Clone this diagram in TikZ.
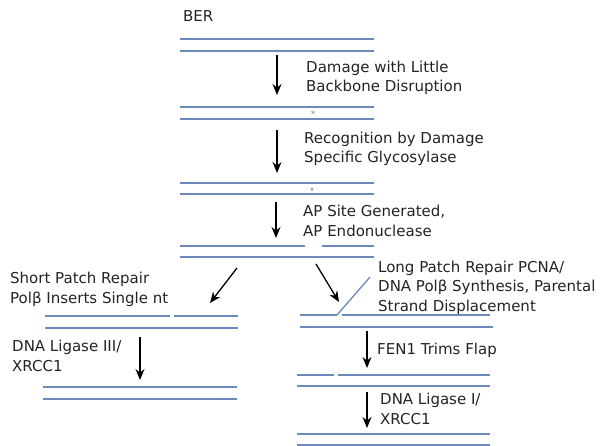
\documentclass[tikz,border=0pt]{standalone}
\usepackage{fontspec}
\setmainfont{DejaVu Sans}
\usetikzlibrary{arrows.meta}
\tikzset {>=Stealth}
\definecolor{strandblue}{RGB}{108,138,190}
\definecolor{textgray}{RGB}{35,35,35}
\tikzset{
  strand/.style={strandblue,line width=2pt},
  % base anchor of a multi-line node = baseline of its last line
  steptext/.style={anchor=base west,inner sep=0pt,align=left,text=textgray,
    font=\fontsize{15}{19.5}\selectfont},
  reaction/.style={line width=1.3pt,
    arrows={-Stealth[length=11pt,width=9pt]}},
  lesion/.style={anchor=base,text=gray,inner sep=0pt,font=\fontsize{9}{9}\selectfont}
}

\begin{document}
\begin{tikzpicture}[x=1pt,y=-1pt]
\useasboundingbox (0,0) rectangle (601,446);
% title
\node[steptext] (ber) at (183,21.7) {BER};
% intact duplex
\draw[strand] (180,39) -- (374,39);
\draw[strand] (180,51) -- (374,51);
\coordinate (s1) at (277,55);
\coordinate (e1) at (277,95);
\draw[reaction] (s1) -- (e1);
\node[steptext] (damage) at (306,91.7) {Damage with Little\\Backbone Disruption};
% damaged base
\draw[strand] (180,107) -- (374,107);
\draw[strand] (180,119) -- (374,119);
\node[lesion] (mark1) at (313,118) {*};
\coordinate (s2) at (277,130);
\coordinate (e2) at (277,173);
\draw[reaction] (s2) -- (e2);
\node[steptext] (glyco) at (304,162.7) {Recognition by Damage\\Specific Glycosylase};
\draw[strand] (180,183) -- (374,183);
\draw[strand] (180,194) -- (374,194);
\node[lesion] (mark2) at (312,194) {*};
\coordinate (s3) at (276,202);
\coordinate (e3) at (276,238);
\draw[reaction] (s3) -- (e3);
\node[steptext] (apsite) at (303,236) {AP Site Generated,\\AP Endonuclease};
% nicked duplex
\draw[strand] (180,246) -- (305,246);
\draw[strand] (322,246) -- (374,246);
\draw[strand] (180,257) -- (374,257);

% short patch branch
\coordinate (s4) at (237,268);
\coordinate (e4) at (210,303);
\draw[reaction] (s4) -- (e4);
\node[steptext] (short) at (10,303) {Short Patch Repair\\Polβ Inserts Single nt};
\draw[strand] (45,316) -- (170,316);
\draw[strand] (174,316) -- (238,316);
\draw[strand] (45,328) -- (238,328);
\coordinate (s5) at (140,337);
\coordinate (e5) at (140,380);
\draw[reaction] (s5) -- (e5);
\node[steptext] (lig3) at (12,371) {DNA Ligase III/\\XRCC1};
\draw[strand] (43,387) -- (237,387);
\draw[strand] (43,399) -- (237,399);

% long patch branch
\coordinate (s6) at (316,264);
\coordinate (e6) at (339,302);
\draw[reaction] (s6) -- (e6);
\node[steptext] (long) at (378,311) {Long Patch Repair PCNA/\\DNA Polβ Synthesis, Parental\\Strand Displacement};
\draw[strand] (300,315) -- (337,315);
\draw[strand,line width=1.3pt] (337,315) -- (370,277);
\draw[strand] (342,315) -- (490,315);
\draw[strand] (300,327) -- (493,327);
\coordinate (s7) at (367,331);
\coordinate (e7) at (367,368);
\draw[reaction] (s7) -- (e7);
\node[steptext] (fen) at (377,354) {FEN1 Trims Flap};
\draw[strand] (297,375) -- (334,375);
\draw[strand] (338,375) -- (490,375);
\draw[strand] (297,386) -- (490,386);
\coordinate (s8) at (367,392);
\coordinate (e8) at (367,428);
\draw[reaction] (s8) -- (e8);
\node[steptext] (lig1) at (380,424) {DNA Ligase I/\\XRCC1};
\draw[strand] (297,434) -- (490,434);
\draw[strand] (297,445) -- (490,445);
\end{tikzpicture}
\end{document}
